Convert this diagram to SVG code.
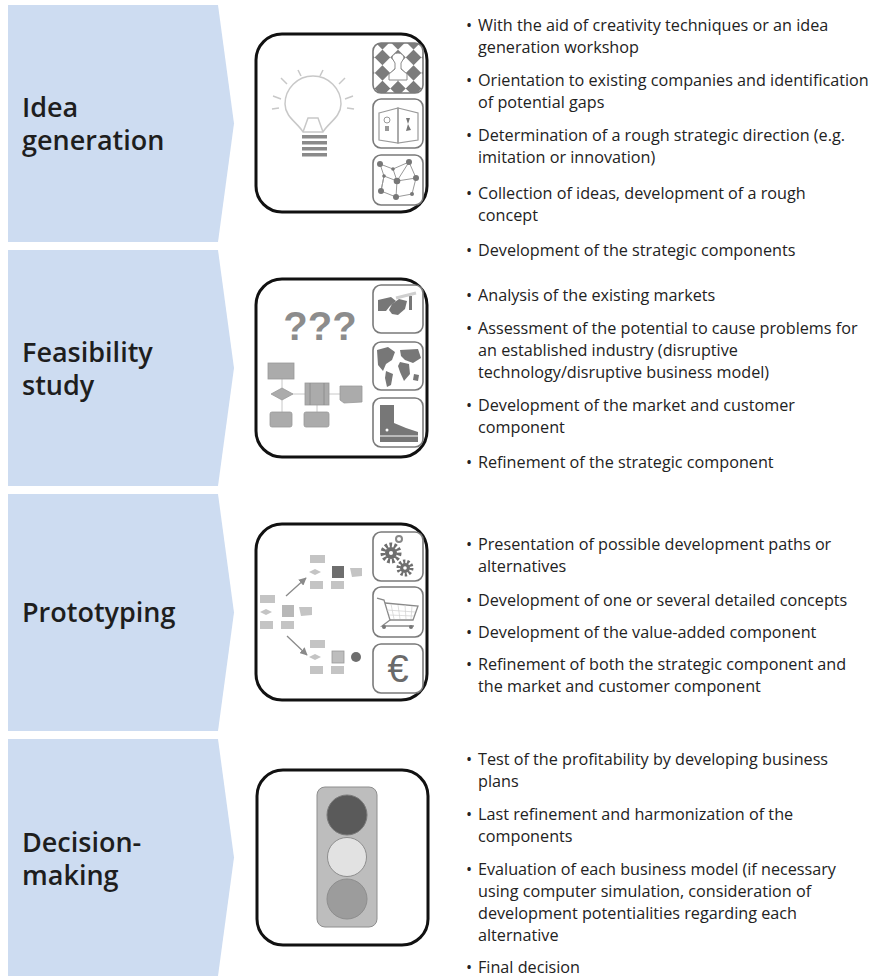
<svg xmlns="http://www.w3.org/2000/svg" width="877" height="978" viewBox="0 0 877 978">
  <style>
    .chev { fill: #cddcf1; }
    .phase { font-family: "Open Sans", "Liberation Sans", sans-serif; font-weight: 600; font-size: 27px; fill: #1e1e1e; }
    .bul { font-family: "Open Sans", "Liberation Sans", sans-serif; font-size: 16.2px; fill: #222; }
    .frame { fill: #fff; stroke: #111; stroke-width: 3; }
    .tile { fill: #fff; stroke: #7a7a7a; stroke-width: 1.6; }
    .tile-edge { fill: none; stroke: #7a7a7a; stroke-width: 1.6; }
    .g1 { fill: #777; }
    .ln { stroke: #9a9a9a; stroke-width: 1.2; fill: none; }
  </style>
  <defs>
    <pattern id="chess" width="22" height="22" patternUnits="userSpaceOnUse" patternTransform="rotate(45 398 68)">
      <rect width="11" height="11" fill="#7c7c7c"/>
      <rect x="11" y="11" width="11" height="11" fill="#7c7c7c"/>
    </pattern>
    <marker id="arr" viewBox="0 0 10 10" refX="9" refY="5" markerWidth="6" markerHeight="6" orient="auto">
      <path d="M0,0 L10,5 L0,10 z" fill="#8a8a8a"/>
    </marker>
    <clipPath id="c1a"><rect x="373" y="43" width="50" height="50" rx="8"/></clipPath>
  </defs>

  <!-- phase chevrons -->
  <g id="phase-idea">
    <polygon class="chev" points="8,5 218,5 234,123.5 218,242 8,242"/>
    <text class="phase" x="22" y="117">Idea<tspan x="22" dy="33">generation</tspan></text>
  </g>
  <g id="phase-feasibility">
    <polygon class="chev" points="8,250 218,250 234,368 218,486 8,486"/>
    <text class="phase" x="22" y="362">Feasibility<tspan x="22" dy="33">study</tspan></text>
  </g>
  <g id="phase-prototyping">
    <polygon class="chev" points="8,494 218,494 234,612.5 218,731 8,731"/>
    <text class="phase" x="22" y="622">Prototyping</text>
  </g>
  <g id="phase-decision">
    <polygon class="chev" points="8,739 218,739 234,857.5 218,976 8,976"/>
    <text class="phase" x="22" y="852">Decision-<tspan x="22" dy="33">making</tspan></text>
  </g>

  <!-- illustration: idea generation -->
  <g id="icon-idea">
    <rect class="frame" x="256" y="34" width="171" height="178" rx="26"/>
    <!-- light bulb -->
    <g stroke="#c8c8c8" stroke-width="1.5" fill="none">
      <path d="M303,132 C298,123 285,117 285,104 A28,28 0 1 1 341,104 C341,117 328,123 323,132 Z"/>
      <path d="M303,132 L308,118 L318,118 L323,132"/>
      <line x1="281" y1="78" x2="287" y2="84"/>
      <line x1="298" y1="70" x2="301" y2="76"/>
      <line x1="323" y1="70" x2="320" y2="76"/>
      <line x1="345" y1="78" x2="339" y2="84"/>
      <line x1="273" y1="96" x2="281" y2="99"/>
      <line x1="353" y1="96" x2="345" y2="99"/>
      <line x1="272" y1="109" x2="279" y2="108"/>
      <line x1="354" y1="109" x2="347" y2="108"/>
    </g>
    <g fill="#8a8a8a">
      <rect x="302" y="135" width="25" height="3.5"/>
      <rect x="302" y="141" width="25" height="3.5"/>
      <rect x="302" y="147" width="25" height="3.5"/>
      <rect x="302" y="153" width="25" height="3.5"/>
    </g>
    <!-- chess tile -->
    <g clip-path="url(#c1a)">
      <rect x="373" y="43" width="50" height="50" fill="url(#chess)"/>
      <path d="M392,58 a6,5 0 1 1 12,0 l-3,5 l0,6 l6,5 l0,6 l-18,0 l0,-6 l6,-5 l0,-6 z" fill="#fff" stroke="#8a8a8a" stroke-width="1"/>
    </g>
    <rect class="tile-edge" x="373" y="43" width="50" height="50" rx="8"/>
    <!-- book tile -->
    <rect class="tile" x="373" y="99" width="50" height="49" rx="8"/>
    <g class="ln">
      <path d="M379,113 L398,108 L398,143 L379,140 Z"/>
      <path d="M398,108 L418,113 L418,140 L398,143 Z"/>
    </g>
    <circle cx="387" cy="120" r="3" fill="none" stroke="#999" stroke-width="1"/>
    <rect x="385" y="126" width="4" height="5" fill="#999"/>
    <path d="M406,118 L410,118 L408,124 L411,130 L406,131 L408,124 Z" fill="#777"/>
    <!-- network tile -->
    <rect class="tile" x="373" y="155" width="50" height="50" rx="8"/>
    <g stroke="#999" stroke-width="1" fill="none">
      <path d="M380,164 L393,169 L409,162 L416,178 L412,194 L396,197 L381,191 L384,176 Z"/>
      <path d="M384,176 L397,181 L409,162 M397,181 L416,178 M397,181 L396,197 M393,169 L397,181 M384,176 L381,191"/>
    </g>
    <g fill="#777">
      <circle cx="380" cy="164" r="3"/>
      <circle cx="409" cy="162" r="3"/>
      <circle cx="397" cy="181" r="3.3"/>
      <circle cx="416" cy="178" r="3"/>
      <circle cx="381" cy="191" r="3"/>
      <circle cx="396" cy="197" r="3"/>
      <circle cx="412" cy="194" r="2"/>
      <circle cx="393" cy="169" r="1.8"/>
      <circle cx="384" cy="176" r="1.8"/>
    </g>
  </g>

  <!-- illustration: feasibility study -->
  <g id="icon-feasibility">
    <rect class="frame" x="256" y="279" width="171" height="178" rx="26"/>
    <text x="320" y="340" text-anchor="middle" font-family="Liberation Sans, sans-serif" font-weight="bold" font-size="40" fill="#8c8c8c">???</text>
    <!-- flowchart sketch -->
    <g stroke="#c8c8c8" stroke-width="1">
      <line x1="282" y1="379" x2="282" y2="412"/>
      <line x1="292" y1="394" x2="340" y2="394"/>
      <line x1="317" y1="405" x2="317" y2="412"/>
    </g>
    <g fill="#ababab" stroke="#999" stroke-width="0.8">
      <rect x="268" y="363" width="26" height="16"/>
      <polygon points="271,394 282,388 293,394 282,400"/>
      <rect x="305" y="383" width="24" height="22"/>
      <path d="M340,386 L362,386 L362,402 L344,403 L340,400 Z"/>
      <rect x="270" y="412" width="22" height="15" rx="2"/>
      <rect x="304" y="412" width="25" height="15" rx="2"/>
    </g>
    <g stroke="#888" stroke-width="0.8">
      <line x1="310" y1="383" x2="310" y2="405"/>
      <line x1="324" y1="383" x2="324" y2="405"/>
    </g>
    <!-- handshake tile -->
    <rect class="tile" x="373" y="285" width="50" height="48" rx="8"/>
    <g class="g1">
      <path d="M378,300 L391,297 L396,301 L390,306 L386,311 L378,311 Z"/>
      <path d="M392,304 L399,299 L407,301 L405,309 L398,315 L392,314 L389,310 Z"/>
      <rect x="409" y="296" width="3" height="14"/>
    </g>
    <path d="M396,298 L416,293" stroke="#cfcfcf" stroke-width="3"/>
    <!-- world map tile -->
    <rect class="tile" x="373" y="342" width="50" height="48" rx="8"/>
    <g class="g1">
      <path d="M377,350 L388,347 L395,352 L392,360 L386,364 L383,371 L378,365 Z"/>
      <path d="M386,371 L393,374 L391,385 L387,387 L385,378 Z"/>
      <path d="M400,350 L418,349 L421,358 L413,363 L405,360 L401,356 Z"/>
      <path d="M400,362 L409,364 L410,374 L404,381 L400,372 L398,366 Z"/>
      <path d="M414,374 L419,375 L418,381 L413,380 Z"/>
    </g>
    <!-- boot tile -->
    <rect class="tile" x="373" y="398" width="50" height="49" rx="8"/>
    <path d="M380,405 L394,405 L394,423 L406,428 L418,432 L418,442 L380,442 Z" class="g1"/>
    <line x1="380" y1="436" x2="418" y2="436" stroke="#fff" stroke-width="1"/>
    <circle cx="387" cy="430" r="1.5" fill="#fff"/>
  </g>

  <!-- illustration: prototyping -->
  <g id="icon-prototyping">
    <rect class="frame" x="256" y="524" width="171" height="176" rx="26"/>
    <!-- left sketch -->
    <g fill="#c4c4c4">
      <rect x="260" y="595" width="15" height="8"/>
      <polygon points="260,612 266,609 272,612 266,615"/>
      <rect x="282" y="605" width="12" height="12" fill="#b8b8b8"/>
      <path d="M299,607 L312,607 L312,615 L301,616 Z"/>
      <rect x="260" y="621" width="13" height="8"/>
      <rect x="281" y="621" width="13" height="8"/>
    </g>
    <!-- upper sketch -->
    <g fill="#c4c4c4">
      <rect x="310" y="555" width="15" height="8"/>
      <polygon points="309,572 315,569 321,572 315,575"/>
      <rect x="332" y="566" width="12" height="12" fill="#6e6e6e"/>
      <path d="M350,568 L362,568 L362,576 L352,577 Z"/>
      <rect x="310" y="581" width="13" height="8"/>
      <rect x="331" y="581" width="13" height="8"/>
    </g>
    <!-- lower sketch -->
    <g fill="#c4c4c4">
      <rect x="310" y="640" width="15" height="8"/>
      <polygon points="309,657 315,654 321,657 315,660"/>
      <rect x="332" y="651" width="12" height="12" fill="#bdbdbd" stroke="#999" stroke-width="0.8"/>
      <circle cx="356" cy="657" r="5" fill="#6e6e6e"/>
      <rect x="310" y="666" width="13" height="8"/>
      <rect x="331" y="666" width="13" height="8"/>
    </g>
    <g stroke="#8a8a8a" stroke-width="1.3">
      <line x1="286" y1="596" x2="306" y2="578" marker-end="url(#arr)"/>
      <line x1="287" y1="636" x2="307" y2="655" marker-end="url(#arr)"/>
    </g>
    <!-- gears tile -->
    <rect class="tile" x="373" y="532" width="50" height="49" rx="8"/>
    <circle cx="391" cy="553" r="8" fill="none" stroke="#6e6e6e" stroke-width="5" stroke-dasharray="2.5 2"/>
    <circle cx="391" cy="553" r="6" fill="#6e6e6e"/>
    <circle cx="391" cy="553" r="2" fill="#fff"/>
    <circle cx="405" cy="568" r="6.5" fill="none" stroke="#6e6e6e" stroke-width="4" stroke-dasharray="2.2 1.8"/>
    <circle cx="405" cy="568" r="5" fill="#6e6e6e"/>
    <circle cx="405" cy="568" r="1.8" fill="#fff"/>
    <circle cx="399" cy="539" r="3" fill="none" stroke="#888" stroke-width="2"/>
    <!-- cart tile -->
    <rect class="tile" x="373" y="587" width="50" height="50" rx="8"/>
    <g stroke="#8a8a8a" stroke-width="1.3" fill="none">
      <path d="M377,598 L384,600 L390,620 L382,626 L414,626"/>
      <path d="M385,603 L418,606 L413,620 L390,620"/>
    </g>
    <g stroke="#d0d0d0" stroke-width="0.7">
      <line x1="391" y1="604" x2="394" y2="619"/>
      <line x1="398" y1="605" x2="400" y2="619"/>
      <line x1="405" y1="605" x2="406" y2="619"/>
      <line x1="412" y1="606" x2="411" y2="619"/>
      <line x1="387" y1="610" x2="415" y2="612"/>
      <line x1="389" y1="615" x2="414" y2="616"/>
    </g>
    <circle cx="384" cy="627" r="2" fill="#777"/>
    <circle cx="411" cy="627" r="2" fill="#777"/>
    <!-- euro tile -->
    <rect class="tile" x="373" y="644" width="50" height="49" rx="8"/>
    <text x="398" y="682" text-anchor="middle" font-family="Liberation Sans, sans-serif" font-size="38" fill="#6a6a6a">€</text>
  </g>

  <!-- illustration: decision-making -->
  <g id="icon-decision">
    <rect class="frame" x="257" y="770" width="171" height="175" rx="26" stroke-width="2.5"/>
    <rect x="317" y="787" width="60" height="140" rx="8" fill="#bdbdbd" stroke="#8e8e8e" stroke-width="1"/>
    <circle cx="347" cy="815" r="20" fill="#5a5a5a" stroke="#7a7a7a" stroke-width="1"/>
    <circle cx="347" cy="857" r="19.5" fill="#e2e2e2" stroke="#8e8e8e" stroke-width="1"/>
    <circle cx="347" cy="899" r="20" fill="#9c9c9c" stroke="#8e8e8e" stroke-width="1"/>
  </g>

  <!-- bullet lists -->
  <g id="notes-idea" class="bul">
    <text x="466" y="31">•</text>
    <text x="478" y="31">With the aid of creativity techniques or an idea</text>
    <text x="478" y="53">generation workshop</text>
    <text x="466" y="86">•</text>
    <text x="478" y="86">Orientation to existing companies and identification</text>
    <text x="478" y="108">of potential  gaps</text>
    <text x="466" y="141">•</text>
    <text x="478" y="141">Determination of a rough strategic direction (e.g.</text>
    <text x="478" y="163">imitation or innovation)</text>
    <text x="466" y="199">•</text>
    <text x="478" y="199">Collection of ideas, development of a rough</text>
    <text x="478" y="221">concept</text>
    <text x="466" y="256">•</text>
    <text x="478" y="256">Development of the strategic components</text>
  </g>
  <g id="notes-feasibility" class="bul">
    <text x="466" y="301">•</text>
    <text x="478" y="301">Analysis of the existing markets</text>
    <text x="466" y="334">•</text>
    <text x="478" y="334">Assessment of the potential to cause problems for</text>
    <text x="478" y="356">an established industry (disruptive</text>
    <text x="478" y="378">technology/disruptive business model)</text>
    <text x="466" y="411">•</text>
    <text x="478" y="411">Development of the market and customer</text>
    <text x="478" y="433">component</text>
    <text x="466" y="468">•</text>
    <text x="478" y="468">Refinement of the strategic component</text>
  </g>
  <g id="notes-prototyping" class="bul">
    <text x="466" y="550">•</text>
    <text x="478" y="550">Presentation of possible development paths or</text>
    <text x="478" y="572">alternatives</text>
    <text x="466" y="606">•</text>
    <text x="478" y="606">Development of one or several detailed concepts</text>
    <text x="466" y="638">•</text>
    <text x="478" y="638">Development of the value-added component</text>
    <text x="466" y="670">•</text>
    <text x="478" y="670">Refinement of both the strategic component and</text>
    <text x="478" y="692">the market and customer component</text>
  </g>
  <g id="notes-decision" class="bul">
    <text x="466" y="765">•</text>
    <text x="478" y="765">Test of the profitability by developing business</text>
    <text x="478" y="787">plans</text>
    <text x="466" y="820">•</text>
    <text x="478" y="820">Last refinement and harmonization of the</text>
    <text x="478" y="842">components</text>
    <text x="466" y="875">•</text>
    <text x="478" y="875">Evaluation of each business model (if necessary</text>
    <text x="478" y="897">using computer simulation, consideration of</text>
    <text x="478" y="919">development potentialities regarding each</text>
    <text x="478" y="941">alternative</text>
    <text x="466" y="973">•</text>
    <text x="478" y="973">Final decision</text>
  </g>
</svg>
